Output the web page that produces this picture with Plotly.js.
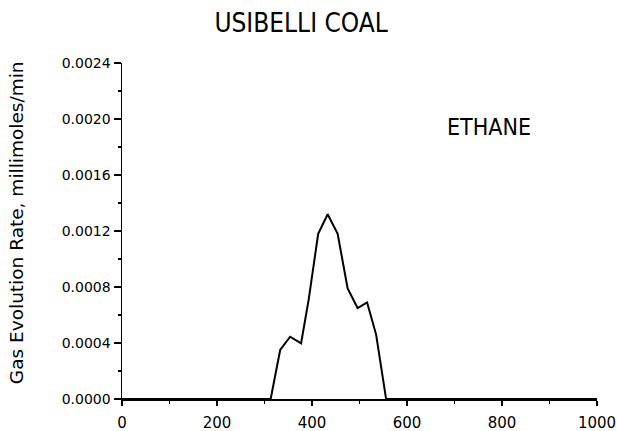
<!DOCTYPE html>
<html>
<head>
<meta charset="utf-8">
<script src="https://cdn.plot.ly/plotly-3.0.1.min.js"></script>
<style>
  html, body { margin: 0; padding: 0; background: #fff; }
  #chart { width: 617px; height: 431px; }
</style>
</head>
<body>
<div id="chart"></div>
<script>
// Ethane evolution rate versus temperature for Usibelli coal
const temperature = [0, 313, 333, 354, 377, 393, 413, 433, 454, 475, 496, 516, 535, 556, 1000];
const ethaneRate  = [0, 0, 0.00035, 0.000445, 0.000398, 0.00071, 0.00118, 0.00132, 0.00118, 0.00079, 0.00065, 0.00069, 0.00046, 0, 0];

const xTickVals = [0, 200, 400, 600, 800, 1000];
const xTickText = ['0', '200', '400', '600', '800', '1000'];
const yTickVals = [0, 0.0004, 0.0008, 0.0012, 0.0016, 0.0020, 0.0024];
const yTickText = ['0.0000', '0.0004', '0.0008', '0.0012', '0.0016', '0.0020', '0.0024'];

const chartTitle = 'USIBELLI COAL';
const yTitle = 'Gas Evolution Rate, millimoles/min';
const seriesLabel = 'ETHANE';

const thinFont = "'Liberation Sans Narrow', 'DejaVu Sans Condensed', 'Liberation Sans', sans-serif";

const trace = {
  x: temperature,
  y: ethaneRate,
  type: 'scatter',
  mode: 'lines',
  line: { color: '#000', width: 2 },
  hoverinfo: 'skip'
};

const layout = {
  width: 617,
  height: 431,
  margin: { l: 122, r: 20, t: 63, b: 32 },
  paper_bgcolor: '#fff',
  plot_bgcolor: '#fff',
  showlegend: false,
  title: {
    text: chartTitle,
    font: { family: thinFont, size: 26, color: '#000' },
    x: 0.488, xref: 'container', xanchor: 'center',
    y: 0.947, yref: 'container', yanchor: 'middle'
  },
  xaxis: {
    range: [0, 1000],
    tickmode: 'array', tickvals: xTickVals, ticktext: xTickText,
    showgrid: false, zeroline: false,
    showline: true, linecolor: '#000', linewidth: 1.5,
    ticks: 'outside', ticklen: 5, tickwidth: 1.5, tickcolor: '#000',
    ticklabelstandoff: 4,
    minor: { dtick: 100, ticks: 'outside', ticklen: 3, tickwidth: 1.2, tickcolor: '#000', showgrid: false },
    tickfont: { family: 'DejaVu Sans, sans-serif', size: 15, color: '#000' }
  },
  yaxis: {
    range: [0, 0.0024],
    tickmode: 'array', tickvals: yTickVals, ticktext: yTickText,
    showgrid: false, zeroline: false,
    showline: true, linecolor: '#000', linewidth: 1.5,
    ticks: 'outside', ticklen: 7, tickwidth: 1.5, tickcolor: '#000',
    minor: { dtick: 0.0002, ticks: 'outside', ticklen: 3, tickwidth: 1.2, tickcolor: '#000', showgrid: false },
    tickfont: { family: 'DejaVu Sans, sans-serif', size: 14, color: '#000' }
  },
  annotations: [
    {
      text: yTitle, textangle: -90,
      xref: 'paper', yref: 'paper', x: -0.222, y: 0.525,
      xanchor: 'center', yanchor: 'middle', showarrow: false,
      font: { family: 'DejaVu Sans, sans-serif', size: 18.5, color: '#000' }
    },
    {
      text: seriesLabel,
      xref: 'x', yref: 'y', x: 772, y: 0.00194,
      xanchor: 'center', yanchor: 'middle', showarrow: false,
      font: { family: thinFont, size: 23, color: '#000' }
    }
  ]
};

Plotly.newPlot('chart', [trace], layout, { staticPlot: true, displayModeBar: false });
</script>
</body>
</html>
